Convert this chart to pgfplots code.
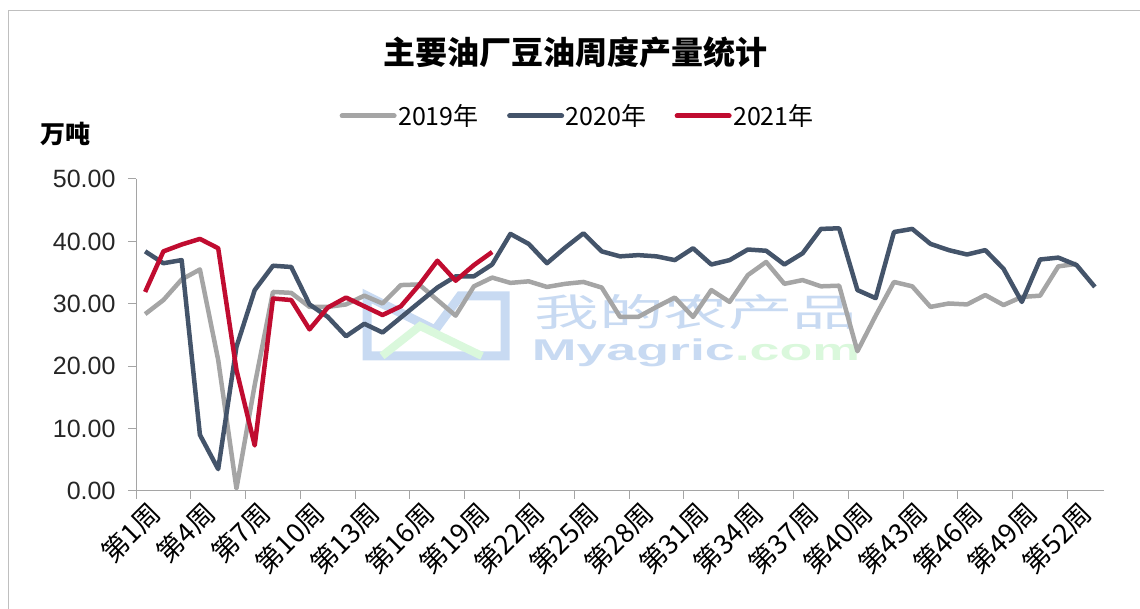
\documentclass[border=0pt]{standalone}
\usepackage{pgfplots}
\pgfplotsset{compat=1.18}
\usepackage{fontspec}
\setmainfont{Liberation Sans}
\newfontfamily\cjk{Noto Sans CJK SC}
\definecolor{c19}{RGB}{165,165,165}
\definecolor{c20}{RGB}{68,84,106}
\definecolor{c21}{RGB}{192,12,48}
\definecolor{axgray}{RGB}{165,165,165}
\definecolor{wmblue}{RGB}{200,218,242}
\definecolor{wmgreen}{RGB}{218,248,220}
\begin{document}
\begin{tikzpicture}[x=1pt,y=1pt]
\useasboundingbox (0,0) rectangle (1140,609);
\draw[color=black!25, line width=1pt] (8,0) -- (8,598) -- (1140,598);
% watermark (pixel coords: X, 609-Y)
\draw[wmblue, line width=9pt, line join=miter] (367,313) -- (435,279) -- (460,313) -- (505,313) -- (505,253) -- (367,253) -- cycle;
\draw[wmgreen, line width=8pt] (382,253) -- (420,283) -- (482,253);
\node[font=\cjk\fontsize{38}{38}\selectfont, text=wmblue, xscale=1.7, inner sep=0] at (696,297) {我的农产品};
\node[font=\bfseries\fontsize{30}{30}\selectfont, inner sep=0, xscale=1.79, anchor=base] at (696,248) {\textcolor{wmblue}{Myagric}\textcolor{wmgreen}{.com}};
\node[font=\cjk\bfseries\fontsize{32}{32}\selectfont, text=black] at (575,557) {主要油厂豆油周度产量统计};
\node[font=\cjk\bfseries\fontsize{25}{25}\selectfont, text=black] at (65,475) {万吨};
\begin{axis}[
  at={(136pt,118pt)}, anchor=south west,
  scale only axis, width=968pt, height=312pt,
  xmin=0.5, xmax=53.5, ymin=0, ymax=50,
  axis x line=bottom, axis y line=left,
  axis line style={-, color=axgray, line width=1pt},
  ytick={0,10,...,50},
  tick align=outside,
  major tick length=8pt, minor tick length=8pt,
  every tick/.style={color=axgray, line width=1pt},
  xtick={1,4,...,52},
  xticklabels={第1周,第4周,第7周,第10周,第13周,第16周,第19周,第22周,第25周,第28周,第31周,第34周,第37周,第40周,第43周,第46周,第49周,第52周},
  major x tick style={draw=none},
  minor xtick={0.5,3.5,...,51.5},
  x tick label style={font=\cjk\fontsize{27}{27}\selectfont, rotate=45, anchor=east, text=black, yshift=-14pt, xshift=4pt},
  y tick label style={font=\fontsize{25}{25}\selectfont, text=black!85, xshift=-9pt},
  yticklabel style={/pgf/number format/fixed, /pgf/number format/fixed zerofill, /pgf/number format/precision=2, /pgf/number format/assume math mode=true},
  clip=false,
  legend style={at={(0.456,1.202)}, anchor=center, draw=none, fill=none, legend columns=3,
    font=\cjk\fontsize{25}{25}\selectfont, inner sep=0pt,
    nodes={inner sep=1.5pt},
    /tikz/every even column/.append style={column sep=27pt}},
  legend image code/.code={\draw[#1, line width=5pt, line cap=round] (0pt,0pt) -- (52pt,0pt);},
  every axis plot/.append style={line width=4.5pt, line join=round, mark=none},
]
\addplot[c19] coordinates {
(1,28.35)(2,30.6)(3,33.9)(4,35.5)(5,21)(6,0.4)(7,17)(8,31.9)(9,31.75)(10,29.5)
(11,29.5)(12,29.9)(13,31.3)(14,30.05)(15,33.0)(16,33.1)(17,30.6)(18,28.1)(19,32.8)(20,34.2)
(21,33.35)(22,33.6)(23,32.7)(24,33.2)(25,33.5)(26,32.6)(27,27.9)(28,27.9)(29,29.5)(30,31.0)
(31,27.9)(32,32.2)(33,30.3)(34,34.6)(35,36.7)(36,33.2)(37,33.8)(38,32.8)(39,32.9)(40,22.4)
(41,28.1)(42,33.5)(43,32.8)(44,29.5)(45,30.05)(46,29.9)(47,31.4)(48,29.8)(49,31.1)(50,31.3)
(51,36.0)(52,36.4)};
\addlegendentry{2019年}
\addplot[c20] coordinates {
(1,38.4)(2,36.5)(3,37.0)(4,9.0)(5,3.5)(6,23.1)(7,32.2)(8,36.1)(9,35.9)(10,29.9)
(11,27.9)(12,24.8)(13,26.8)(14,25.4)(15,27.8)(16,30.2)(17,32.6)(18,34.4)(19,34.4)(20,36.3)
(21,41.2)(22,39.6)(23,36.5)(24,39.0)(25,41.3)(26,38.4)(27,37.6)(28,37.8)(29,37.6)(30,37.0)
(31,38.9)(32,36.3)(33,37.0)(34,38.7)(35,38.5)(36,36.3)(37,38.1)(38,42.0)(39,42.1)(40,32.2)
(41,30.9)(42,41.5)(43,42.0)(44,39.6)(45,38.6)(46,37.9)(47,38.6)(48,35.6)(49,30.3)(50,37.1)
(51,37.4)(52,36.2)(53,32.7)};
\addlegendentry{2020年}
\addplot[c21] coordinates {
(1,31.9)(2,38.4)(3,39.5)(4,40.4)(5,38.9)(6,19.4)(7,7.3)(8,30.85)(9,30.6)(10,25.9)
(11,29.4)(12,31.0)(13,29.6)(14,28.2)(15,29.6)(16,33.0)(17,36.9)(18,33.7)(19,36.2)(20,38.3)};
\addlegendentry{2021年}
\end{axis}
\end{tikzpicture}
\end{document}
